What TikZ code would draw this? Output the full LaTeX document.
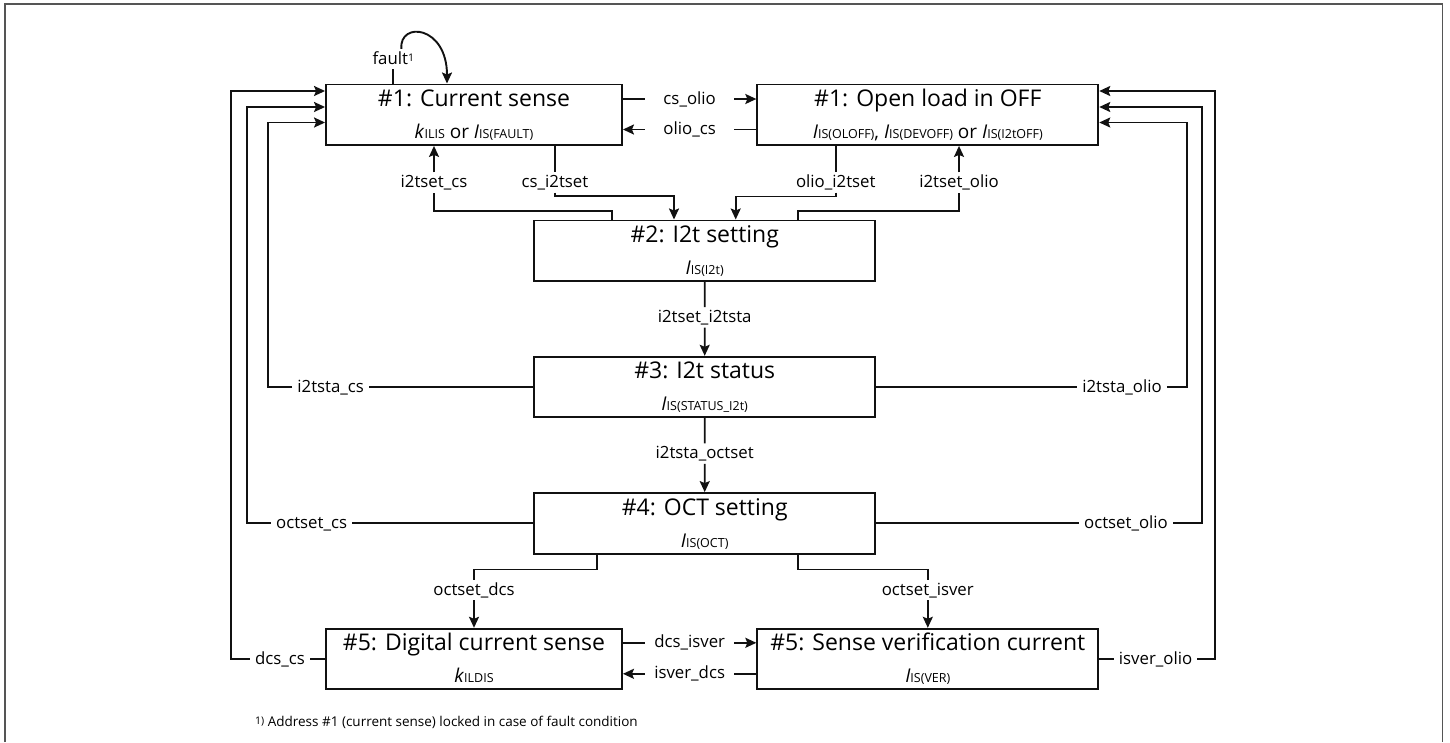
\documentclass[tikz,border=0pt]{standalone}
\usepackage{fontspec}
\setmainfont{Open Sans}
\usepackage{xcolor}
\usepackage{tikz}
\usetikzlibrary{arrows.meta,calc}
\definecolor{nero}{HTML}{111111}
\definecolor{grigio}{HTML}{555555}
% pedice piccolo (IS, ILIS, ...)
\newcommand{\pedice}[1]{{\fontsize{12.5}{13}\selectfont #1}}
\newcommand{\apice}[1]{\raisebox{2.5pt}{\fontsize{10.5}{11}\selectfont #1}}
% casella: nome, x, y, larghezza, titolo, sottotitolo
\newcommand{\casella}[6]{%
  \node[blocco, minimum width=#4pt] (#1) at (#2,#3) {};
  \node[titolo] (#1-t) at ([yshift=-23pt]#1.north) {#5};
  \node[sotto] (#1-s) at ([yshift=-55pt]#1.north) {#6};}

\begin{document}
\begin{tikzpicture}[x=1pt,y=-1pt,
    blocco/.style={draw=nero, line width=1.9pt, minimum height=60.5pt, inner sep=0pt},
    titolo/.style={font=\fontsize{23}{25}\selectfont, anchor=base, inner sep=0pt},
    sotto/.style={font=\fontsize{19}{21}\selectfont, anchor=base, inner sep=0pt},
    etich/.style={font=\fontsize{16.8}{18}\selectfont, text height=10pt, text depth=0pt,
      inner xsep=5pt, inner ysep=5pt},
    linea/.style={draw=nero, line width=1.9pt},
    freccia/.style={linea, -{Stealth[length=11pt,width=10pt,inset=2pt]}},
    cornice/.style={draw=grigio, line width=1.6pt}]
    \useasboundingbox (0,0) rectangle (1450,742);
    % Cornice
    \draw[cornice] (5,742) -- (5,4) -- (1442.5,4) -- (1442.5,742);
    % Caselle
    \casella{cs}{474}{114.7}{296}{\#1: Current sense}
      {\textit{k}\pedice{ILIS} or \textit{I}\pedice{IS(FAULT)}}
    \casella{olio}{927.8}{114.7}{341}{\#1: Open load in OFF}
      {\textit{I}\pedice{IS(OLOFF)}, \textit{I}\pedice{IS(DEVOFF)} or \textit{I}\pedice{IS(I2tOFF)}}
    \casella{i2tset}{704.7}{250.7}{340.7}{\#2: I2t setting}{\textit{I}\pedice{IS(I2t)}}
    \casella{i2tsta}{704.7}{387}{340.7}{\#3: I2t status}{\textit{I}\pedice{IS(STATUS\_I2t)}}
    \casella{octset}{704.7}{523.3}{340.7}{\#4: OCT setting}{\textit{I}\pedice{IS(OCT)}}
    \casella{dcs}{474}{659}{296}{\#5: Digital current sense}{\textit{k}\pedice{ILDIS}}
    \casella{isver}{927.8}{659}{341}{\#5: Sense verification current}{\textit{I}\pedice{IS(VER)}}
    % Punti di ingresso
    \coordinate (cs-a) at ([yshift=-7.5pt]cs.north west);
    \coordinate (cs-b) at ([yshift=-23.5pt]cs.north west);
    \coordinate (cs-c) at ([yshift=-39pt]cs.north west);
    \coordinate (olio-a) at ([yshift=-7.5pt]olio.north east);
    \coordinate (olio-b) at ([yshift=-23.5pt]olio.north east);
    \coordinate (olio-c) at ([yshift=-39pt]olio.north east);
    % fault
    \coordinate (cs-f) at ([xshift=-80.7pt]cs.north);
    \coordinate (cs-g) at ([xshift=-27pt]cs.north);
    \node[etich, anchor=south] (l-fault) at ([yshift=14.3pt]cs-f) {fault\apice{1}};
    \draw[linea] (cs-f) -- (l-fault.south -| cs-f);
    \draw[freccia] ([xshift=8pt]l-fault.north) .. controls ([xshift=6pt,yshift=28pt]l-fault.north)
      and ([yshift=58pt]cs-g) .. (cs-g);
    % cs <-> olio
    \coordinate (cs-o1) at ([yshift=-15.5pt]cs.north east);
    \coordinate (cs-o2) at ([yshift=-46pt]cs.north east);
    \coordinate (olio-o1) at ([yshift=-15.5pt]olio.north west);
    \coordinate (olio-o2) at ([yshift=-46pt]olio.north west);
    \node[etich] (l-cs-olio) at ($(cs-o1)!0.5!(olio-o1)$) {cs\_olio};
    \node[etich] (l-olio-cs) at ($(cs-o2)!0.5!(olio-o2)$) {olio\_cs};
    \draw[linea] (cs-o1) -- ([xshift=22pt]cs-o1);
    \draw[freccia] ([xshift=-22pt]olio-o1) -- (olio-o1);
    \draw[linea] (olio-o2) -- ([xshift=-22pt]olio-o2);
    \draw[freccia] ([xshift=22pt]cs-o2) -- (cs-o2);
    % cs / olio <-> i2tset
    \coordinate (cs-d) at ([xshift=81pt]cs.south);
    \coordinate (olio-d) at ([xshift=-92pt]olio.south);
    \coordinate (i2tset-a) at ([xshift=-30.7pt]i2tset.north);
    \coordinate (i2tset-b) at ([xshift=-92.4pt]i2tset.north);
    \coordinate (i2tset-c) at ([xshift=31pt]i2tset.north);
    \coordinate (i2tset-d) at ([xshift=93pt]i2tset.north);
    \node[etich] (l-i2tset-cs) at (434,182.5) {i2tset\_cs};
    \node[etich] (l-cs-i2tset) at (cs-d |- 0,182.5) {cs\_i2tset};
    \node[etich] (l-olio-i2tset) at (olio-d |- 0,182.5) {olio\_i2tset};
    \node[etich] (l-i2tset-olio) at (959,182.5) {i2tset\_olio};
    \draw[linea] (cs-d) -- (l-cs-i2tset.north);
    \draw[freccia] (l-cs-i2tset.south) |- ([yshift=23.4pt]i2tset-a) -- (i2tset-a);
    \draw[linea] (i2tset-b) -- ([yshift=8.5pt]i2tset-b) -| (l-i2tset-cs.south);
    \draw[freccia] (l-i2tset-cs.north) -- (cs.south -| l-i2tset-cs.north);
    \draw[linea] (olio-d) -- (l-olio-i2tset.north);
    \draw[freccia] (l-olio-i2tset.south) |- ([yshift=23pt]i2tset-c) -- (i2tset-c);
    \draw[linea] (i2tset-d) -- ([yshift=8.5pt]i2tset-d) -| (l-i2tset-olio.south);
    \draw[freccia] (l-i2tset-olio.north) -- (olio.south -| l-i2tset-olio.north);
    % Catena centrale
    \node[etich] (l-i2tset-i2tsta) at ($(i2tset.south)!0.5!(i2tsta.north)+(0,-1.5)$) {i2tset\_i2tsta};
    \draw[linea] (i2tset.south) -- (l-i2tset-i2tsta.north);
    \draw[freccia] (l-i2tset-i2tsta.south) -- (i2tsta.north);
    \node[etich] (l-i2tsta-octset) at ($(i2tsta.south)!0.5!(octset.north)+(0,-1.5)$) {i2tsta\_octset};
    \draw[linea] (i2tsta.south) -- (l-i2tsta-octset.north);
    \draw[freccia] (l-i2tsta-octset.south) -- (octset.north);
    % octset -> dcs / isver
    \coordinate (octset-a) at ([xshift=-108pt]octset.south);
    \coordinate (octset-b) at ([xshift=93pt]octset.south);
    \node[etich] (l-octset-dcs) at (dcs.north |- 0,590) {octset\_dcs};
    \node[etich] (l-octset-isver) at (isver.north |- 0,590) {octset\_isver};
    \draw[linea] (octset-a) -- ([yshift=-15pt]octset-a) -| (l-octset-dcs.north);
    \draw[freccia] (l-octset-dcs.south) -- (dcs.north);
    \draw[linea] (octset-b) -- ([yshift=-15pt]octset-b) -| (l-octset-isver.north);
    \draw[freccia] (l-octset-isver.south) -- (isver.north);
    % dcs <-> isver
    \coordinate (dcs-o1) at ([yshift=-15pt]dcs.north east);
    \coordinate (dcs-o2) at ([yshift=-46pt]dcs.north east);
    \coordinate (isver-o1) at ([yshift=-15pt]isver.north west);
    \coordinate (isver-o2) at ([yshift=-46pt]isver.north west);
    \node[etich] (l-dcs-isver) at ($(dcs-o1)!0.5!(isver-o1)$) {dcs\_isver};
    \node[etich] (l-isver-dcs) at ($(dcs-o2)!0.5!(isver-o2)$) {isver\_dcs};
    \draw[linea] (dcs-o1) -- ([xshift=22pt]dcs-o1);
    \draw[freccia] ([xshift=-22pt]isver-o1) -- (isver-o1);
    \draw[linea] (isver-o2) -- ([xshift=-22pt]isver-o2);
    \draw[freccia] ([xshift=22pt]dcs-o2) -- (dcs-o2);
    % Ritorni a sinistra
    \node[etich] (l-i2tsta-cs) at (i2tsta.west -| 330.7,0) {i2tsta\_cs};
    \node[etich] (l-octset-cs) at (octset.west -| 311.6,0) {octset\_cs};
    \node[etich] (l-dcs-cs) at (dcs.west -| 280,0) {dcs\_cs};
    \draw[linea] (i2tsta.west) -- (l-i2tsta-cs.east);
    \draw[freccia] (l-i2tsta-cs.west) -| ([xshift=-56.7pt]cs-c) -- (cs-c);
    \draw[linea] (octset.west) -- (l-octset-cs.east);
    \draw[freccia] (l-octset-cs.west) -| ([xshift=-77.7pt]cs-b) -- (cs-b);
    \draw[linea] (dcs.west) -- (l-dcs-cs.east);
    \draw[freccia] (l-dcs-cs.west) -| ([xshift=-93.7pt]cs-a) -- (cs-a);
    % Ritorni a destra
    \node[etich] (l-i2tsta-olio) at (i2tsta.east -| 1122,0) {i2tsta\_olio};
    \node[etich] (l-octset-olio) at (octset.east -| 1126,0) {octset\_olio};
    \node[etich] (l-isver-olio) at (isver.east -| 1155.6,0) {isver\_olio};
    \draw[linea] (i2tsta.east) -- (l-i2tsta-olio.west);
    \draw[freccia] (l-i2tsta-olio.east) -| ([xshift=87.4pt]olio-c) -- (olio-c);
    \draw[linea] (octset.east) -- (l-octset-olio.west);
    \draw[freccia] (l-octset-olio.east) -| ([xshift=102.4pt]olio-b) -- (olio-b);
    \draw[linea] (isver.east) -- (l-isver-olio.west);
    \draw[freccia] (l-isver-olio.east) -| ([xshift=116pt]olio-a) -- (olio-a);
    % Nota
    \node[anchor=base west, inner sep=0pt, font=\fontsize{13.5}{15}\selectfont] (nota) at (255,726.5)
      {\apice{1)} Address \#1 (current sense) locked in case of fault condition};
\end{tikzpicture}
\end{document}
